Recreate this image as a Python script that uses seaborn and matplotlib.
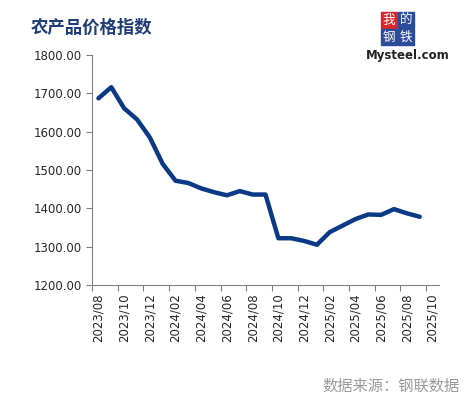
import numpy as np
import pandas as pd
import matplotlib
matplotlib.use("Agg")
import matplotlib.pyplot as plt
import seaborn as sns
from matplotlib.ticker import FixedLocator, FuncFormatter

# Data
months = ["2023/08", "2023/09", "2023/10", "2023/11", "2023/12", "2024/01",
          "2024/02", "2024/03", "2024/04", "2024/05", "2024/06", "2024/07",
          "2024/08", "2024/09", "2024/10", "2024/11", "2024/12", "2025/01",
          "2025/02", "2025/03", "2025/04", "2025/05", "2025/06", "2025/07",
          "2025/08", "2025/09", "2025/10"]
index_values = [1687, 1716, 1661, 1632, 1585, 1516, 1472, 1466, 1452, 1442,
                1434, 1445, 1436, 1436, 1322, 1322, 1315, 1305, 1338, 1355,
                1372, 1384, 1383, 1398, 1387, 1378]
y_ticks = [1200, 1300, 1400, 1500, 1600, 1700, 1800]

sns.set_style("white")
plt.rcParams['font.family'] = ['DejaVu Sans', 'Noto Sans CJK SC']

df = pd.DataFrame({"pos": np.arange(len(index_values)), "value": index_values})

fig = plt.figure(figsize=(4.65, 3.97), dpi=100)
ax = fig.add_axes([92 / 465, 1 - 285 / 397, (439 - 92) / 465, (285 - 55) / 397])

sns.lineplot(data=df, x="pos", y="value", ax=ax, color="#0a3a85",
             linewidth=3.2, solid_joinstyle="round", solid_capstyle="round")

ax.set_xlim(-0.5, len(months) - 0.5)
ax.set_ylim(y_ticks[0], y_ticks[-1])
ax.set_xlabel("")
ax.set_ylabel("")

# y axis
ax.set_yticks(y_ticks)
ax.yaxis.set_major_formatter(FuncFormatter(lambda v, p: f"{v:.2f}"))
ax.tick_params(axis="y", direction="out", length=4, width=0.8, color="#808080",
               labelsize=8.5, pad=3, left=True)

# x axis: ticks between categories, labels on every other category
ax.xaxis.set_major_locator(FixedLocator(np.arange(-0.5, len(months) - 0.5, 2)))
ax.xaxis.set_minor_locator(FixedLocator(np.arange(0, len(months), 2)))
ax.xaxis.set_major_formatter(FuncFormatter(lambda v, p: ""))
ax.xaxis.set_minor_formatter(FuncFormatter(
    lambda v, p: months[int(round(v))] if 0 <= int(round(v)) < len(months) else ""))
ax.tick_params(axis="x", which="major", direction="out", length=4, width=0.8,
               color="#808080", bottom=True)
ax.tick_params(axis="x", which="minor", length=0, labelsize=8.5, pad=6,
               labelrotation=90, bottom=True)

for side in ["top", "right"]:
    ax.spines[side].set_visible(False)
for side in ["left", "bottom"]:
    ax.spines[side].set_color("#808080")
    ax.spines[side].set_linewidth(0.8)
ax.grid(False)

# title
fig.text(31 / 465, 1 - 28 / 397, "农产品价格指数", fontsize=12.5, fontweight="bold",
         color="#1f3c7a", family=["Noto Sans CJK SC"], va="center", ha="left")

# logo
cells = [("我", 381, 12, "#d9262b"), ("的", 398, 12, "#2b4c9a"),
         ("钢", 381, 29, "#2b4c9a"), ("铁", 398, 29, "#2b4c9a")]
for ch, x0, y0, c in cells:
    fig.patches.append(plt.Rectangle((x0 / 465, 1 - (y0 + 16) / 397), 16 / 465, 16 / 397,
                                     transform=fig.transFigure, color=c, zorder=1))
    fig.text((x0 + 8) / 465, 1 - (y0 + 8) / 397, ch, color="white", fontsize=9,
             family=["Noto Sans CJK SC"], ha="center", va="center", zorder=2)
fig.text(408 / 465, 1 - 56 / 397, "Mysteel.com", fontsize=8.5, fontweight="bold",
         color="#222222", ha="center", va="center")

# source
fig.text(460 / 465, 1 - 386 / 397, "数据来源：钢联数据", fontsize=11, color="#9a9a9a",
         family=["Noto Sans CJK SC"], ha="right", va="center")

fig.savefig("out.png", dpi=100)
